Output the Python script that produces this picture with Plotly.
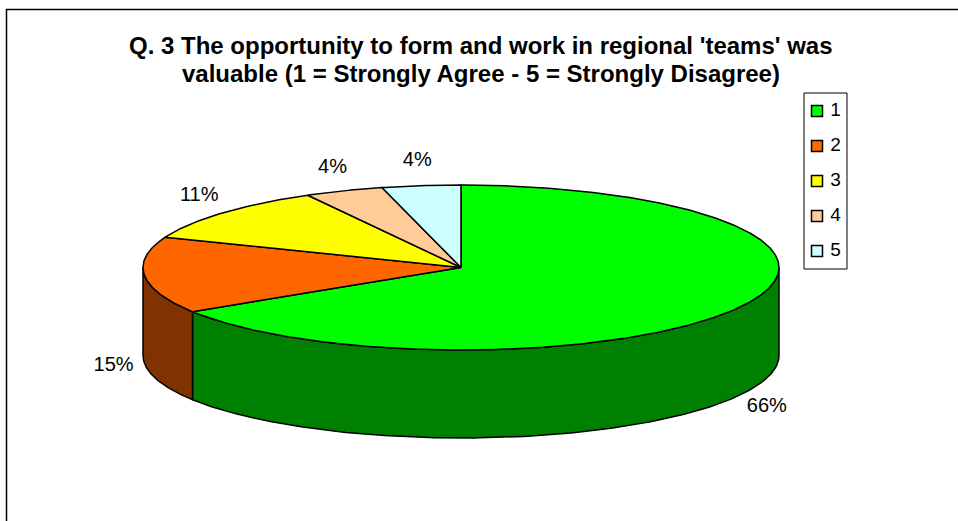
import numpy as np
import plotly.graph_objects as go

# ---- data ----
categories = ["1", "2", "3", "4", "5"]
values = [66, 15, 11, 4, 4]
label_texts = ["66%", "15%", "11%", "4%", "4%"]
top_colors = ["#00FF00", "#FF6600", "#FFFF00", "#FFCC99", "#CCFFFF"]
side_colors = ["#008000", "#803300", "#808000", "#806633", "#668080"]
title_lines = ["Q. 3 The opportunity to form and work in regional 'teams' was",
               "valuable (1 = Strongly Agree - 5 = Strongly Disagree)"]

# ---- geometry (pixel space of the figure) ----
W, H = 958, 521
CX, CY, RX, RY, DEPTH = 461, 267.5, 318, 82.5, 88
FONT = "Liberation Sans, Arial, sans-serif"


def ell(theta_deg, dy=0.0):
    t = np.radians(theta_deg)
    return CX + RX * np.sin(t), CY - RY * np.cos(t) + dy


fracs = np.array(values, dtype=float) / sum(values)
cum = np.concatenate([[0.0], np.cumsum(fracs)]) * 360.0

fig = go.Figure()

# side walls (front half only: 90..270 degrees clockwise from top)
for i in range(len(values)):
    a0, a1 = max(cum[i], 90.0), min(cum[i + 1], 270.0)
    if a1 <= a0:
        continue
    th = np.linspace(a0, a1, 200)
    xt, yt = ell(th)
    xb, yb = ell(th[::-1], DEPTH)
    xs = np.concatenate([xt, xb, xt[:1]])
    ys = np.concatenate([yt, yb, yt[:1]])
    fig.add_trace(go.Scatter(x=xs, y=ys, mode="lines", fill="toself",
                             fillcolor=side_colors[i],
                             line=dict(color="black", width=1.5),
                             hoverinfo="skip", showlegend=False))

# top faces
for i in range(len(values)):
    th = np.linspace(cum[i], cum[i + 1], max(int((cum[i + 1] - cum[i]) * 2), 8))
    xa, ya = ell(th)
    xs = np.concatenate([[CX], xa, [CX]])
    ys = np.concatenate([[CY], ya, [CY]])
    fig.add_trace(go.Scatter(x=xs, y=ys, mode="lines", fill="toself",
                             fillcolor=top_colors[i],
                             line=dict(color="black", width=1.5),
                             hoverinfo="skip", showlegend=False,
                             name=categories[i]))

# data labels
lx, ly = [], []
for i in range(len(values)):
    mid = (cum[i] + cum[i + 1]) / 2
    t = np.radians(mid)
    dy = DEPTH if 90 < mid < 270 else 0
    lx.append(CX + (RX + 31) * np.sin(t))
    ly.append(CY - (RY + 25) * np.cos(t) + dy)
fig.add_trace(go.Scatter(x=lx, y=ly, mode="text", text=label_texts,
                         textfont=dict(family=FONT, size=20, color="black"),
                         hoverinfo="skip", showlegend=False))

# legend (manual)
LEG_X0, LEG_X1, LEG_Y0, LEG_Y1 = 804, 847, 93, 269
LEG_FIRST, LEG_STEP = 111, 35
leg_y = [LEG_FIRST + LEG_STEP * i for i in range(len(categories))]
fig.add_shape(type="rect", x0=LEG_X0, x1=LEG_X1, y0=LEG_Y0, y1=LEG_Y1,
              line=dict(color="black", width=1), fillcolor="white", layer="below")
fig.add_trace(go.Scatter(x=[817] * len(categories), y=leg_y, mode="markers+text",
                         marker=dict(symbol="square", size=11, color=top_colors,
                                     line=dict(color="black", width=1.5)),
                         text=[" " + c for c in categories], textposition="middle right",
                         textfont=dict(family=FONT, size=19, color="black"),
                         hoverinfo="skip", showlegend=False))

# outer frame
fig.add_shape(type="rect", x0=6.5, x1=W + 20, y0=9.5, y1=H + 20,
              line=dict(color="black", width=1.5), layer="below")

# title (two centred lines)
for k, line in enumerate(title_lines):
    fig.add_annotation(x=481, y=45 + 28 * k, text="<b>" + line + "</b>",
                       showarrow=False, xanchor="center", yanchor="middle",
                       font=dict(family=FONT, size=24, color="black"))

fig.update_layout(
    width=W, height=H, margin=dict(l=0, r=0, t=0, b=0),
    paper_bgcolor="white", plot_bgcolor="white",
    xaxis=dict(range=[0, W], visible=False, fixedrange=True),
    yaxis=dict(range=[H, 0], visible=False, fixedrange=True),
    showlegend=False,
)

fig.write_html("out.html", config={"displayModeBar": False},
               post_script="document.body.style.margin='0';document.body.style.overflow='hidden';")
